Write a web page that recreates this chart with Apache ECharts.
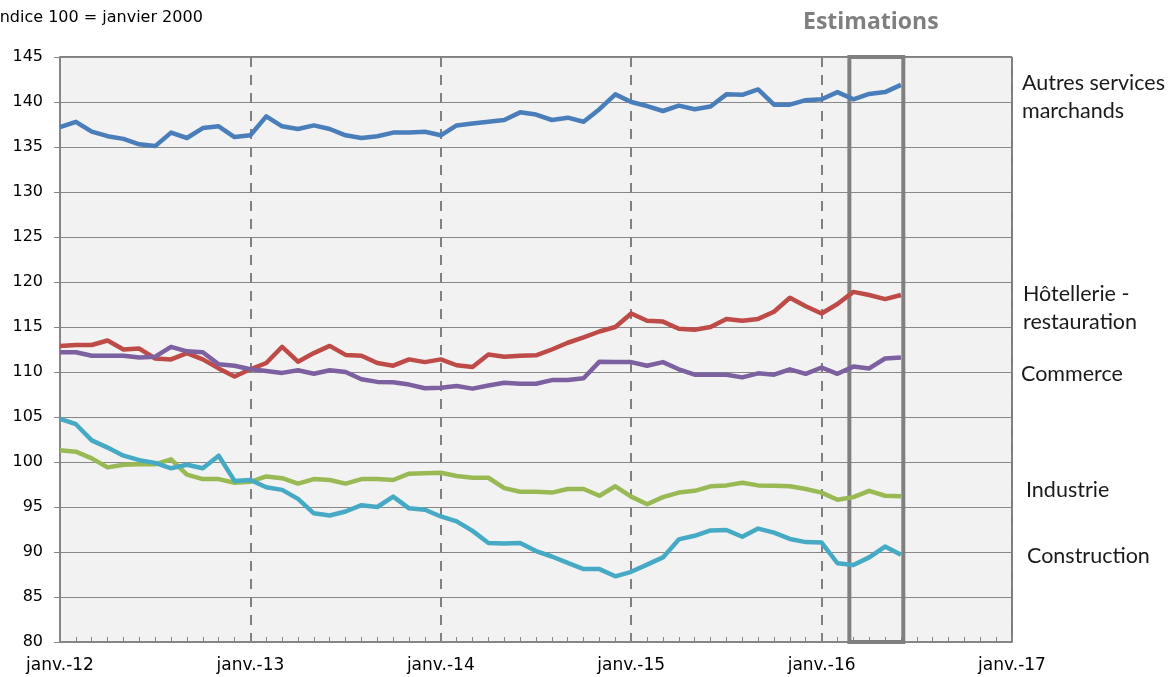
<!DOCTYPE html>
<html>
<head>
<meta charset="utf-8">
<script src="https://cdn.jsdelivr.net/npm/echarts@6/dist/echarts.min.js"></script>
<style>
  html, body { margin: 0; padding: 0; background: #fff; }
  #chart { width: 1168px; height: 677px; }
</style>
</head>
<body>
<div id="chart"></div>
<script>
// one value per month, janv. 2012 -> juin 2016
const yearLabels = ['janv.-12', 'janv.-13', 'janv.-14', 'janv.-15', 'janv.-16', 'janv.-17'];

const autresServices = [137.2, 137.8, 136.7, 136.2, 135.9, 135.3, 135.1, 136.6, 136.0, 137.1,
    137.3, 136.1, 136.3, 138.4, 137.3, 137.0, 137.4, 137.0, 136.3, 136.0,
    136.2, 136.6, 136.6, 136.7, 136.3, 137.4, 137.6, 137.8, 138.0, 138.85,
    138.6, 138.0, 138.26, 137.8, 139.2, 140.85, 140.0, 139.55, 139.0, 139.6,
    139.2, 139.5, 140.85, 140.8, 141.4, 139.7, 139.7, 140.2, 140.3, 141.1,
    140.3, 140.9, 141.1, 141.9];

const hotellerie = [112.9, 113.0, 113.0, 113.5, 112.5, 112.6, 111.5, 111.4, 112.1, 111.4,
    110.4, 109.5, 110.3, 111.0, 112.8, 111.15, 112.1, 112.9, 111.9, 111.8,
    111.0, 110.7, 111.4, 111.1, 111.4, 110.75, 110.55, 111.95, 111.7, 111.8,
    111.85, 112.5, 113.25, 113.85, 114.5, 115.0, 116.5, 115.7, 115.6, 114.8,
    114.7, 115.0, 115.9, 115.7, 115.9, 116.7, 118.25, 117.3, 116.5, 117.55,
    118.9, 118.55, 118.1, 118.55];

const commerce = [112.2, 112.2, 111.8, 111.8, 111.8, 111.6, 111.7, 112.8, 112.3, 112.2,
    110.85, 110.7, 110.3, 110.1, 109.9, 110.2, 109.8, 110.2, 110.0, 109.2,
    108.9, 108.85, 108.6, 108.2, 108.25, 108.45, 108.15, 108.5, 108.8, 108.7,
    108.7, 109.1, 109.1, 109.3, 111.15, 111.1, 111.1, 110.7, 111.1, 110.3,
    109.7, 109.7, 109.7, 109.4, 109.85, 109.7, 110.3, 109.8, 110.5, 109.8,
    110.6, 110.4, 111.5, 111.6];

const industrie = [101.3, 101.15, 100.4, 99.4, 99.7, 99.75, 99.75, 100.3, 98.6, 98.1,
    98.1, 97.7, 97.8, 98.4, 98.2, 97.6, 98.1, 98.0, 97.6, 98.1,
    98.1, 98.0, 98.7, 98.75, 98.8, 98.45, 98.25, 98.25, 97.1, 96.7,
    96.7, 96.6, 97.0, 97.0, 96.25, 97.3, 96.15, 95.3, 96.1, 96.6,
    96.8, 97.3, 97.4, 97.7, 97.4, 97.35, 97.3, 97.0, 96.6, 95.8,
    96.1, 96.8, 96.25, 96.2];

const construction = [104.8, 104.2, 102.4, 101.6, 100.7, 100.2, 99.9, 99.3, 99.7, 99.3,
    100.7, 97.9, 98.0, 97.2, 96.9, 95.9, 94.3, 94.05, 94.5, 95.2,
    95.0, 96.15, 94.85, 94.7, 93.95, 93.4, 92.35, 91.0, 90.95, 91.0,
    90.1, 89.5, 88.8, 88.1, 88.1, 87.3, 87.8, 88.6, 89.4, 91.4,
    91.8, 92.4, 92.45, 91.7, 92.6, 92.15, 91.45, 91.1, 91.05, 88.75,
    88.55, 89.4, 90.6, 89.7];

// estimation window, in months since janv.-12
const estimStart = 49.75;
const estimEnd = 53.15;

const chart = echarts.init(document.getElementById('chart'));

const toPairs = arr => arr.map((v, i) => [i, v]);

function lineSeries(name, data, color) {
    return {
        name: name,
        type: 'line',
        data: toPairs(data),
        symbol: 'none',
        lineStyle: { color: color, width: 4.5, join: 'round' },
        itemStyle: { color: color },
        animation: false
    };
}

const labelFont = 'Lato, "Noto Sans", sans-serif';
function sideText(x, y, text) {
    return {
        type: 'text', left: x, top: y,
        style: { text: text, font: '21.5px ' + labelFont, fill: '#1a1a1a', lineHeight: 28 }
    };
}

const option = {
    animation: false,
    grid: {
        left: 60, right: 156, top: 57, bottom: 35,
        show: true, backgroundColor: '#f2f2f2', borderColor: '#000', borderWidth: 1
    },
    xAxis: {
        type: 'value', min: 0, max: 60, interval: 12,
        axisLine: { show: true, lineStyle: { color: '#868686', width: 2 } },
        axisTick: { show: true, inside: true, length: 6, lineStyle: { color: '#868686' } },
        minorTick: { show: true, splitNumber: 12, length: 5, lineStyle: { color: '#868686' } },
        axisLabel: {
            formatter: v => yearLabels[v / 12] || '',
            fontFamily: '"DejaVu Sans", sans-serif', fontSize: 17, color: '#000', margin: 15
        },
        splitLine: { show: true, lineStyle: { color: '#808080', width: 2, type: [10, 8] } }
    },
    yAxis: {
        type: 'value', min: 80, max: 145, interval: 5,
        axisLine: { show: true, lineStyle: { color: '#868686', width: 2 } },
        axisTick: { show: true, length: 6, lineStyle: { color: '#868686' } },
        axisLabel: { fontFamily: '"DejaVu Sans", sans-serif', fontSize: 16, color: '#000', margin: 17 },
        splitLine: { show: true, lineStyle: { color: '#888', width: 1 } }
    },
    series: [
        lineSeries('Autres services marchands', autresServices, '#4a7ebb'),
        lineSeries('Hôtellerie - restauration', hotellerie, '#be4b48'),
        lineSeries('Commerce', commerce, '#7d60a0'),
        lineSeries('Industrie', industrie, '#98b954'),
        lineSeries('Construction', construction, '#46aac5'),
        {
            name: 'Estimations',
            type: 'line',
            data: [],
            z: 10,
            markArea: {
                silent: true,
                itemStyle: { color: 'rgba(0,0,0,0)', borderColor: '#808080', borderWidth: 4 },
                data: [[{ coord: [estimStart, 79.95] }, { coord: [estimEnd, 145.2] }]]
            }
        }
    ],
    graphic: [
        {
            type: 'text', left: -5, top: 10,
            style: { text: 'Indice 100 = janvier 2000', font: '16px "DejaVu Sans", sans-serif', fill: '#000' }
        },
        {
            type: 'text', left: 803, top: 11,
            style: { text: 'Estimations', font: 'bold 23px "Open Sans", sans-serif', fill: '#7f7f7f' }
        },
        sideText(1022, 69, 'Autres services\nmarchands'),
        sideText(1023, 280, 'Hôtellerie -\nrestauration'),
        sideText(1021, 360, 'Commerce'),
        sideText(1026, 476, 'Industrie'),
        sideText(1027, 542, 'Construction')
    ]
};

chart.setOption(option);
</script>
</body>
</html>
